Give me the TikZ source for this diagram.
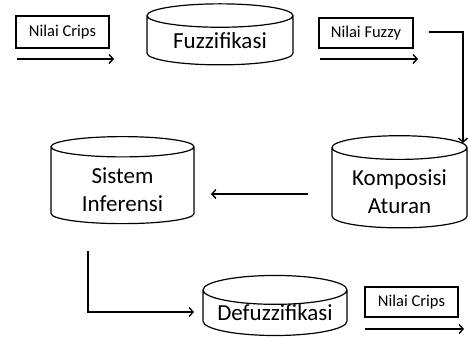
\documentclass[tikz,border=0pt]{standalone}
\usepackage{fontspec}
\setmainfont{Carlito}
\usetikzlibrary{positioning,calc,arrows.meta,shapes.geometric}
\newcommand{\duabaris}[2]{\raisebox{-6pt}[\height][\depth]{\begin{tabular}{@{}c@{}}#1\\#2\end{tabular}}}
\tikzset{
  blok/.style={draw, line width=1.2pt, shape=cylinder, shape border rotate=90,
    aspect=0.25, inner sep=0pt,
    font=\fontsize{23}{28}\selectfont},
  nilaibox/.style={draw, line width=1.3pt, inner sep=0pt,
    font=\fontsize{16.5}{19}\selectfont},
  panah/.style={line width=1.4pt, -{Straight Barb[length=4pt,width=9pt]}}
}

\begin{document}
\begin{tikzpicture}[x=1pt,y=-1pt]
  \useasboundingbox (0,0) rectangle (468,339);
  % proses
  \node[blok, minimum width=146pt, minimum height=61pt] (fuzzifikasi) at (220,40.5) {Fuzzifikasi};
  \node[blok, minimum width=135pt, minimum height=87pt] (komposisi) at (399.5,188) {\duabaris{Komposisi}{Aturan}};
  \node[blok, minimum width=143pt, minimum height=85pt] (sistem) at (122.5,185.5) {\duabaris{Sistem}{Inferensi}};
  \node[blok, minimum width=144pt, minimum height=60pt] (defuzzifikasi) at (275,313) {Defuzzifikasi};
  % nilai
  \node[nilaibox, minimum width=93pt, minimum height=32pt] (crips1) at (62.5,32) {Nilai Crips};
  \node[nilaibox, minimum width=94pt, minimum height=30pt] (fuzzy) at (366,33) {Nilai Fuzzy};
  \node[nilaibox, minimum width=93pt, minimum height=30pt] (crips2) at (411.5,302) {Nilai Crips};
  % ujung panah
  \coordinate (a1) at (17,59);
  \coordinate (b1) at (114,59);
  \coordinate (a2) at (320,59);
  \coordinate (b2) at (418,59);
  \coordinate (a3) at (429,32);
  \coordinate (b3) at (463,143);
  \coordinate (a4) at (308,194);
  \coordinate (b4) at (211,194);
  \coordinate (a5) at (88,251);
  \coordinate (b5) at (194,312);
  \coordinate (a6) at (365,329);
  \coordinate (b6) at (464,329);
  \draw[panah] (a1) -- (b1);
  \draw[panah] (a2) -- (b2);
  \draw[panah] (a3) -| (b3);
  \draw[panah] (a4) -- (b4);
  \draw[panah] (a5) |- (b5);
  \draw[panah] (a6) -- (b6);
\end{tikzpicture}
\end{document}
